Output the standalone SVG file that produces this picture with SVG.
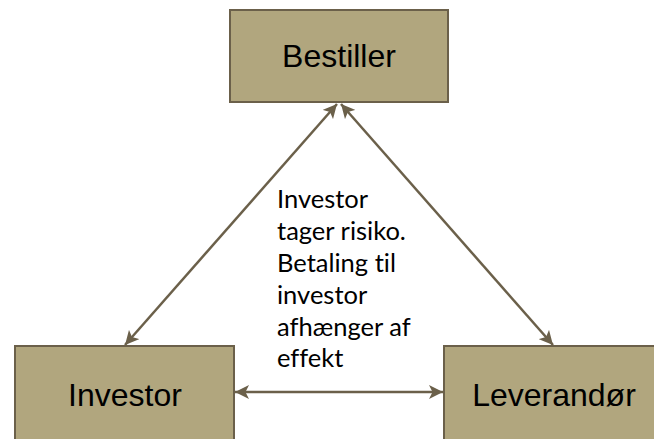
<svg xmlns="http://www.w3.org/2000/svg" width="654" height="439" viewBox="0 0 654 439">
<defs>
<style>
.box{fill:#b1a67e;stroke:#6b604a;stroke-width:2}
.lbl{font-family:"Liberation Sans",Arial,sans-serif;font-size:32px;fill:#000;text-anchor:middle}
.note{font-family:Lato,"Open Sans",sans-serif;font-size:25.5px;fill:#000;font-variant-ligatures:none;font-feature-settings:"liga" 0}
.conn{stroke:#6b604a;stroke-width:2.5;fill:none;marker-start:url(#ah);marker-end:url(#ah)}
</style>
<marker id="ah" viewBox="0 0 10 10" refX="10" refY="5" markerWidth="5.6" markerHeight="5.6" orient="auto-start-reverse" markerUnits="strokeWidth">
<path d="M0,0 L10,5 L0,10 L2.5,5 z" fill="#6b604a"/>
</marker>
</defs>
<g id="connectors">
<line class="conn" x1="337" y1="104" x2="125" y2="345"/>
<line class="conn" x1="341" y1="104" x2="553" y2="345"/>
<line class="conn" x1="235" y1="392" x2="443" y2="392"/>
</g>
<g id="bestiller">
<rect class="box" x="230" y="10" width="218" height="92"/>
<text class="lbl" x="339" y="67">Bestiller</text>
</g>
<g id="investor">
<rect class="box" x="15" y="346" width="219" height="100"/>
<text class="lbl" x="125" y="406">Investor</text>
</g>
<g id="leverandor">
<rect class="box" x="444" y="346" width="220" height="100"/>
<text class="lbl" x="554" y="406">Leverandør</text>
</g>
<g id="note">
<text class="note" x="277" y="208">Investor</text>
<text class="note" x="277" y="240">tager risiko.</text>
<text class="note" x="277" y="272">Betaling til</text>
<text class="note" x="277" y="304">investor</text>
<text class="note" x="277" y="336">afhænger af</text>
<text class="note" x="277" y="367">effekt</text>
</g>
</svg>
